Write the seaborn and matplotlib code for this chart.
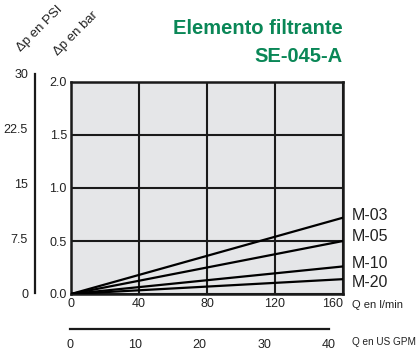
import matplotlib
matplotlib.use("Agg")
import pandas as pd
import numpy as np
import matplotlib.pyplot as plt
import seaborn as sns

# --- Data ---
flow_lmin = [0, 160]
models = ["M-03", "M-05", "M-10", "M-20"]
dp_m03 = [0.0, 0.72]
dp_m05 = [0.0, 0.50]
dp_m10 = [0.0, 0.26]
dp_m20 = [0.0, 0.14]
label_y = [0.745, 0.545, 0.29, 0.11]

x_ticks = [0, 40, 80, 120, 160]
y_ticks = [0.0, 0.5, 1.0, 1.5, 2.0]
psi_ticks = [0, 7.5, 15, 22.5, 30]
psi_labels = ["0", "7.5", "15", "22.5", "30"]
gpm_ticks = [0, 10, 20, 30, 40]

GREEN = "#0a8757"
BG = "#e5e6e8"

sns.set_style("white")
plt.rcParams['font.family'] = ['Liberation Sans', 'DejaVu Sans']

df = pd.DataFrame({
    "Q": flow_lmin * 4,
    "dp": dp_m03 + dp_m05 + dp_m10 + dp_m20,
    "model": [m for m in models for _ in flow_lmin],
})

W, H = 419, 353
fig = plt.figure(figsize=(W / 100, H / 100), dpi=100)

# main chart
ax = fig.add_axes([71 / W, 59 / H, 272 / W, 212 / H])
ax.set_facecolor(BG)
sns.lineplot(data=df, x="Q", y="dp", hue="model", palette=["black"] * 4,
             linewidth=1.6, legend=False, ax=ax, zorder=3)
ax.set_xlim(0, 160)
ax.set_ylim(0, 2.0)
ax.set_xticks(x_ticks)
ax.set_yticks(y_ticks)
ax.set_yticklabels([f"{v:.1f}" for v in y_ticks])
ax.tick_params(length=0, labelsize=9, pad=3, colors="#222222")
ax.get_xticklabels()[-1].set_ha("right")
ax.grid(True, color="#1a1a1a", linewidth=1.5, zorder=1)
for s in ax.spines.values():
    s.set_color("#1a1a1a")
    s.set_linewidth(1.8)
ax.set_xlabel("")
ax.set_ylabel("")

for m, yv in zip(models, label_y):
    ax.text(1.032, yv / 2.0, m, transform=ax.transAxes, ha="left", va="center",
            fontsize=11.5, color="#222222", clip_on=False)

# psi axis
ax_psi = fig.add_axes([35 / W, 60 / H, 0.0001, 219 / H])
ax_psi.set_facecolor("none")
ax_psi.set_ylim(0, 30)
ax_psi.set_yticks(psi_ticks)
ax_psi.set_yticklabels(psi_labels)
ax_psi.set_xticks([])
for k in ["top", "right", "bottom"]:
    ax_psi.spines[k].set_visible(False)
ax_psi.spines["left"].set_linewidth(1.6)
ax_psi.spines["left"].set_color("#1a1a1a")
ax_psi.tick_params(axis="y", direction="in", length=6, width=1.6, labelsize=9,
                   pad=5, colors="#1a1a1a", labelcolor="#222222")

# US GPM axis
ax_gpm = fig.add_axes([70 / W, 24 / H, 259 / W, 0.0001])
ax_gpm.set_facecolor("none")
ax_gpm.set_xlim(0, 40)
ax_gpm.set_xticks(gpm_ticks)
ax_gpm.set_yticks([])
for k in ["top", "right", "left"]:
    ax_gpm.spines[k].set_visible(False)
ax_gpm.spines["bottom"].set_linewidth(1.6)
ax_gpm.spines["bottom"].set_color("#1a1a1a")
ax_gpm.tick_params(axis="x", direction="in", length=6, width=1.6, labelsize=9,
                   pad=7, colors="#1a1a1a", labelcolor="#222222")

# axis captions
fig.text(352 / W, 1 - 305 / H, "Q en l/min", ha="left", va="center", fontsize=8, color="#222222")
fig.text(352 / W, 1 - 342 / H, "Q en US GPM", ha="left", va="center", fontsize=7.2, color="#222222")
fig.text(40 / W, 1 - 29 / H, "Δp en PSI", rotation=45, rotation_mode="anchor",
         ha="center", va="center", fontsize=9.5, color="#222222")
fig.text(76 / W, 1 - 34 / H, "Δp en bar", rotation=45, rotation_mode="anchor",
         ha="center", va="center", fontsize=9.5, color="#222222")

# title
fig.text(343 / W, 1 - 28 / H, "Elemento filtrante", ha="right", va="center",
         fontsize=14.5, fontweight="bold", color=GREEN)
fig.text(343 / W, 1 - 57 / H, "SE-045-A", ha="right", va="center",
         fontsize=14.5, fontweight="bold", color=GREEN)

fig.savefig("out.png", dpi=100)
